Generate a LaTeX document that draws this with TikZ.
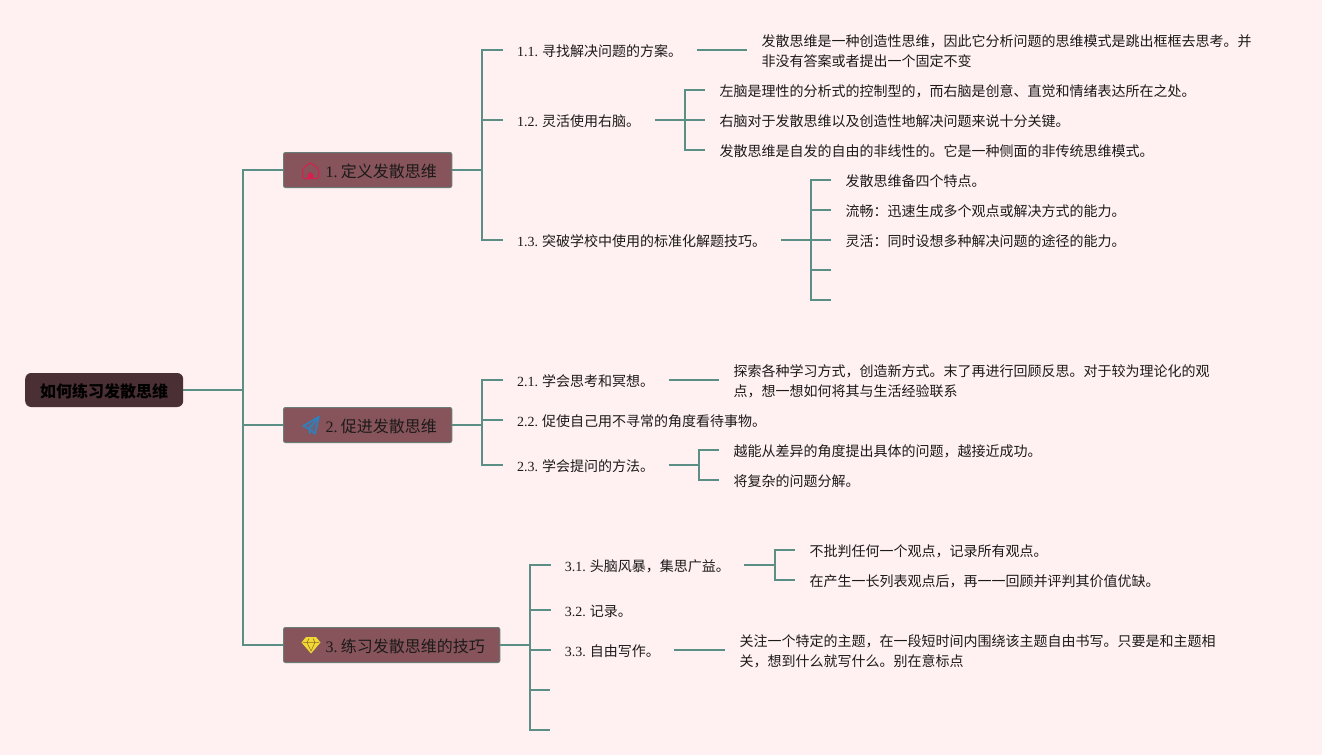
\documentclass[tikz,border=0pt]{standalone}
\usepackage{fontspec}
\setmainfont{Liberation Serif}
\newfontfamily\cjk{Noto Sans CJK SC}
\definecolor{pagebg}{HTML}{FFF0F1}
\definecolor{linkc}{HTML}{5B8F85}
\definecolor{headc}{HTML}{86545A}
\definecolor{rootc}{HTML}{4A3035}
\definecolor{inkc}{HTML}{1C1A1A}
\definecolor{houseC}{HTML}{D8204F}
\definecolor{planeC}{HTML}{2F80BE}
\definecolor{gemC}{HTML}{F2D835}
\definecolor{gemL}{HTML}{8A6A2A}
\newcommand{\Num}[1]{\hspace*{-.5pt}{\rmfamily #1}\hspace{-.8pt}}
\newcommand{\HNum}[1]{{\rmfamily #1}\hspace{-2pt}}
\tikzset{
  link/.style={draw=linkc,line width=1.9pt,line join=miter},
  leaf/.style={anchor=west,inner xsep=14.5pt,inner ysep=0pt,text=inkc,font=\fontsize{14}{20}\selectfont\cjk,align=left},
  one/.style={leaf,text height=14pt,text depth=2pt},
  head/.style={anchor=west,draw=linkc!70!headc,fill=headc,line width=1pt,rounded corners=2pt,inner ysep=0pt,inner xsep=15pt,minimum height=35pt,text height=16pt,text depth=2pt,text=inkc,font=\fontsize{16}{20}\selectfont\cjk},
  rootbox/.style={anchor=west,fill=rootc,rounded corners=6pt,inner ysep=0pt,inner xsep=15pt,minimum height=34pt,text height=16pt,text depth=2pt,text=black,font=\fontsize{16}{20}\selectfont\cjk\bfseries},
}
\begin{document}
\begin{tikzpicture}[x=1pt,y=-1pt]
\useasboundingbox (0,0) rectangle (1322,755);
\fill[pagebg] (0,0) rectangle (1322,755);
% junctions
\coordinate (s0) at (243,390);
\coordinate (s1) at (481.6,170);
\coordinate (s2) at (481.6,425);
\coordinate (s3) at (529.6,645);
\coordinate (s12) at (685,120);
\coordinate (s13) at (811,240);
\coordinate (s23) at (699,465);
\coordinate (s31) at (775,565);
\coordinate (e134) at (831,270);
\coordinate (e135) at (831,300);
\coordinate (e34) at (550,690);
\coordinate (e35) at (550,730);
% root and heads
\node[rootbox] (root) at (25,390) {如何练习发散思维};
\node[head] (h1) at (283,170) {\hspace{27pt}\HNum{1. }定义发散思维};
\node[head] (h2) at (283,425) {\hspace{27pt}\HNum{2. }促进发散思维};
\node[head] (h3) at (283,645) {\hspace{27pt}\HNum{3. }练习发散思维的技巧};
% section 1
\node[one] (t11) at (503,50) {\Num{1.1. }寻找解决问题的方案。};
\node[one] (t12) at (503,120) {\Num{1.2. }灵活使用右脑。};
\node[one] (t13) at (503,240) {\Num{1.3. }突破学校中使用的标准化解题技巧。};
\node[leaf] (d11) at (747,51) {发散思维是一种创造性思维，因此它分析问题的思维模式是跳出框框去思考。并\\非没有答案或者提出一个固定不变};
\node[one] (d121) at (705,90) {左脑是理性的分析式的控制型的，而右脑是创意、直觉和情绪表达所在之处。};
\node[one] (d122) at (705,120) {右脑对于发散思维以及创造性地解决问题来说十分关键。};
\node[one] (d123) at (705,150) {发散思维是自发的自由的非线性的。它是一种侧面的非传统思维模式。};
\node[one] (d131) at (831,180) {发散思维备四个特点。};
\node[one] (d132) at (831,210) {流畅：迅速生成多个观点或解决方式的能力。};
\node[one] (d133) at (831,240) {灵活：同时设想多种解决问题的途径的能力。};
% section 2
\node[one] (t21) at (503,380) {\Num{2.1. }学会思考和冥想。};
\node[one] (t22) at (503,420) {\Num{2.2. }促使自己用不寻常的角度看待事物。};
\node[one] (t23) at (503,465) {\Num{2.3. }学会提问的方法。};
\node[leaf] (d21) at (719,381) {探索各种学习方式，创造新方式。末了再进行回顾反思。对于较为理论化的观\\点，想一想如何将其与生活经验联系};
\node[one] (d231) at (719,450) {越能从差异的角度提出具体的问题，越接近成功。};
\node[one] (d232) at (719,480) {将复杂的问题分解。};
% section 3
\node[one] (t31) at (550.7,565) {\Num{3.1. }头脑风暴，集思广益。};
\node[one] (t32) at (550.7,610) {\Num{3.2. }记录。};
\node[one] (t33) at (550.7,650) {\Num{3.3. }自由写作。};
\node[one] (d311) at (795,550) {不批判任何一个观点，记录所有观点。};
\node[one] (d312) at (795,580) {在产生一长列表观点后，再一一回顾并评判其价值优缺。};
\node[leaf] (d33) at (725,651) {关注一个特定的主题，在一段短时间内围绕该主题自由书写。只要是和主题相\\关，想到什么就写什么。别在意标点};
% connectors
\draw[link] (root.east) -- (s0);
\draw[link] (h1.west) -| (s0) |- (h3.west);
\draw[link] (h2.west) -- (h2.west -| s0);
\draw[link] (h1.east) -- (s1);
\draw[link] (t11.west) -| (s1) |- (t13.west);
\draw[link] (t12.west) -- (t12.west -| s1);
\draw[link] (t11.east) -- (t11.east -| d11.west);
\draw[link] (t12.east) -- (d122.west);
\draw[link] (d121.west) -| (s12) |- (d123.west);
\draw[link] (t13.east) -- (d133.west -| s13);
\draw[link] (d131.west) -| (s13) |- (e135);
\draw[link] (d132.west) -- (d132.west -| s13);
\draw[link] (d133.west) -- (d133.west -| s13);
\draw[link] (e134) -- (e134 -| s13);
\draw[link] (h2.east) -- (s2);
\draw[link] (t21.west) -| (s2) |- (t23.west);
\draw[link] (t22.west) -- (t22.west -| s2);
\draw[link] (t21.east) -- (t21.east -| d21.west);
\draw[link] (t23.east) -- (s23);
\draw[link] (d231.west) -| (s23) |- (d232.west);
\draw[link] (h3.east) -- (h3.east -| s3);
\draw[link] (t31.west) -| (s3) |- (e35);
\draw[link] (t32.west) -- (t32.west -| s3);
\draw[link] (t33.west) -- (t33.west -| s3);
\draw[link] (e34) -- (e34 -| s3);
\draw[link] (t31.east) -- (s31);
\draw[link] (d311.west) -| (s31) |- (d312.west);
\draw[link] (t33.east) -- (t33.east -| d33.west);
% icon: house
\draw[draw=houseC,line width=1pt,line join=round,rounded corners=1.5pt]
  (302.5,178.5) -- (302.5,169) -- (310.5,162.5) -- (318.5,169) -- (318.5,178.5) -- cycle;
\fill[houseC] (307.5,178.5) -- (307.5,174.5) -- (310.5,172) -- (313.5,174.5) -- (313.5,178.5) -- cycle;
% icon: paper plane
\fill[planeC!35!headc] (319,416.5) -- (303,426) -- (309,429) -- (315,434) -- cycle;
\draw[draw=planeC,line width=1.5pt,line join=round]
  (319,416.5) -- (303,426) -- (309,429) -- cycle
  (319,416.5) -- (315,434) -- (309,429) -- (310,434);
% icon: gem
\fill[gemC] (306,637) -- (316,637) -- (320.5,642.5) -- (311,653.5) -- (301.5,642.5) -- cycle;
\draw[draw=gemL,line width=.5pt] (303,642.5) -- (319,642.5) (307,642.5) -- (311,651) -- (315,642.5) (307,642.5) -- (309,638.5) (315,642.5) -- (313,638.5);
\end{tikzpicture}
\end{document}
